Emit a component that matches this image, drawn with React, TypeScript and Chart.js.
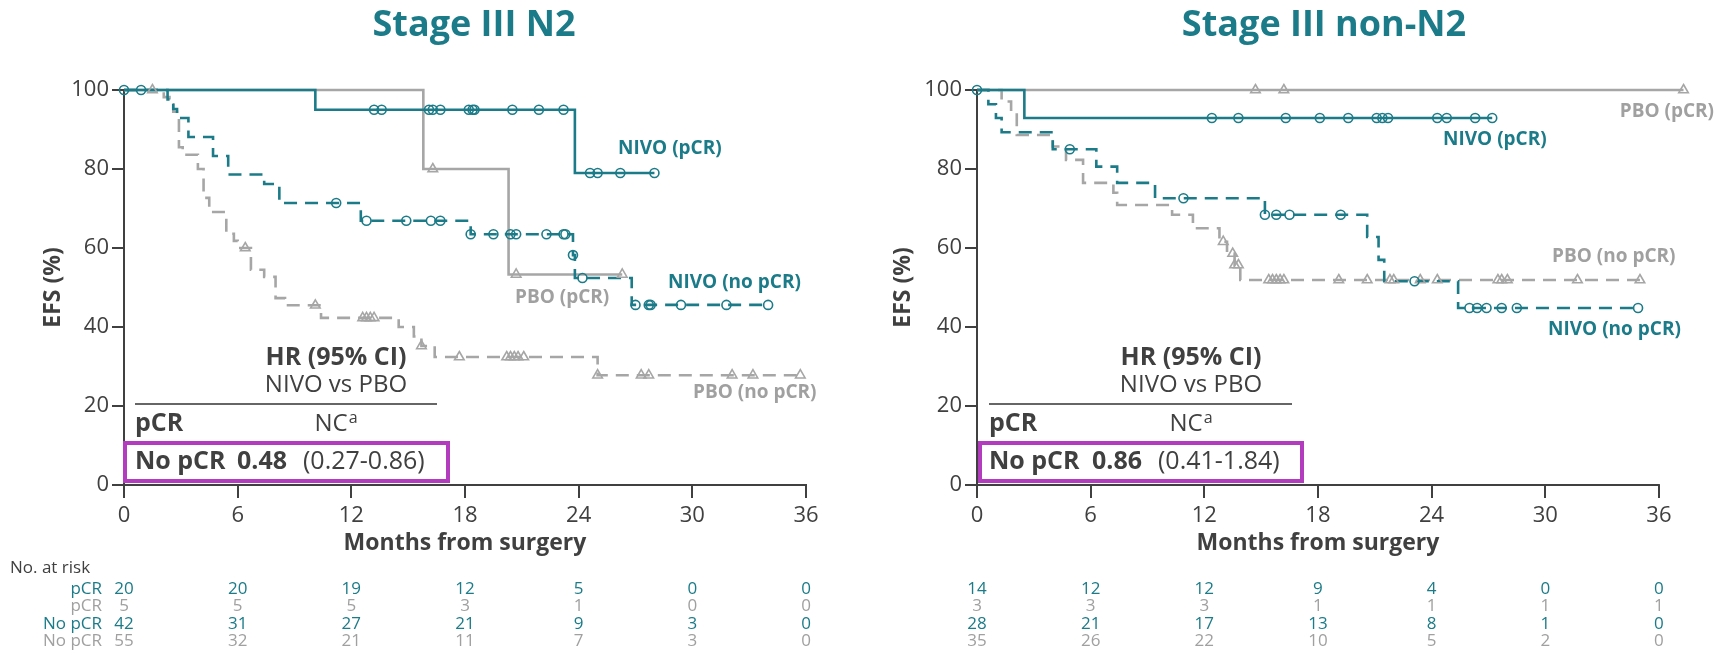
import { useEffect, useRef } from "react";
import { Chart, registerables } from "chart.js";

Chart.register(...registerables);

const TEAL = "#1b7b88";
const GRAY = "#a6a6a6";
const GRAY_TEXT = "#a0a0a0";
const DARK = "#404040";
const PURPLE = "#b23cbd";
const FONT = "'Open Sans', 'Noto Sans', sans-serif";

const xTickMonths = [0, 6, 12, 18, 24, 30, 36];
const yTickValues = [0, 20, 40, 60, 80, 100];

// ---------- Stage III N2 ----------
const n2NivoPcrTimes = [0, 10.1, 23.8, 28.0];
const n2NivoPcrSurv = [100, 95, 79, 79];
const n2NivoPcrCensored = [0, 0.9, 13.2, 13.6, 16.1, 16.3, 16.7, 18.2, 18.4, 18.5, 20.5, 21.9, 23.2, 24.6, 25.0, 26.2, 28.0];

const n2PboPcrTimes = [0, 15.8, 20.3, 26.3];
const n2PboPcrSurv = [100, 80, 53.3, 53.3];
const n2PboPcrCensored = [16.3, 20.7, 26.3];

const n2NivoNoTimes = [0, 2.3, 2.6, 2.8, 3.4, 4.7, 5.5, 7.4, 8.2, 12.5, 18.3, 23.7, 23.8, 26.8, 34.0];
const n2NivoNoSurv = [100, 97.6, 95.2, 92.9, 88.1, 83.3, 78.6, 76.2, 71.4, 66.9, 63.5, 58.2, 52.4, 45.6, 45.6];
const n2NivoNoCensored = [11.2, 12.8, 14.9, 16.2, 16.7, 18.3, 19.5, 20.4, 20.7, 22.3, 23.2, 23.3, 23.7, 24.2, 27.0, 27.7, 27.8, 29.4, 31.8, 34.0];

const n2PboNoTimes = [0, 2.1, 2.4, 2.6, 2.9, 3.1, 3.9, 4.2, 4.5, 5.4, 5.8, 6.0, 6.7, 7.4, 8.0, 8.5, 10.4, 14.5, 15.3, 15.7, 16.4, 25.0, 35.7];
const n2PboNoSurv = [100, 98.2, 96.4, 94.5, 85.5, 83.6, 80.0, 72.7, 69.1, 63.6, 61.8, 60.0, 54.5, 52.7, 47.3, 45.5, 42.3, 40.0, 37.6, 35.2, 32.4, 27.8, 27.8];
const n2PboNoCensored = [1.5, 6.4, 10.1, 12.6, 12.8, 13.0, 13.2, 15.7, 17.7, 20.2, 20.4, 20.6, 20.8, 21.1, 25.0, 27.3, 27.7, 32.1, 33.2, 35.7];

const n2RiskNivoPcr = [20, 20, 19, 12, 5, 0, 0];
const n2RiskPboPcr = [5, 5, 5, 3, 1, 0, 0];
const n2RiskNivoNo = [42, 31, 27, 21, 9, 3, 0];
const n2RiskPboNo = [55, 32, 21, 11, 7, 3, 0];

// ---------- Stage III non-N2 ----------
const nn2NivoPcrTimes = [0, 2.5, 27.2];
const nn2NivoPcrSurv = [100, 92.9, 92.9];
const nn2NivoPcrCensored = [0, 12.4, 13.8, 16.3, 18.1, 19.6, 21.1, 21.4, 21.7, 24.3, 24.8, 26.3, 27.2];

const nn2PboPcrTimes = [0, 37.3];
const nn2PboPcrSurv = [100, 100];
const nn2PboPcrCensored = [14.7, 16.2, 37.3];

const nn2NivoNoTimes = [0, 0.6, 1.0, 1.3, 4.0, 6.3, 7.4, 9.4, 15.2, 20.6, 21.2, 21.5, 25.4, 34.9];
const nn2NivoNoSurv = [100, 96.4, 92.9, 89.3, 85.0, 80.6, 76.5, 72.6, 68.4, 62.8, 57.0, 51.6, 44.8, 44.8];
const nn2NivoNoCensored = [4.9, 10.9, 15.2, 15.8, 16.5, 19.2, 23.1, 26.0, 26.4, 26.9, 27.7, 28.5, 34.9];

const nn2PboNoTimes = [0, 1.3, 1.8, 2.1, 4.0, 4.7, 5.6, 7.2, 7.4, 10.3, 11.4, 12.8, 13.2, 13.6, 13.9, 35.0];
const nn2PboNoSurv = [100, 97.1, 94.3, 88.6, 85.7, 82.3, 76.5, 74.0, 70.9, 68.4, 65.0, 61.6, 58.6, 55.7, 51.9, 51.9];
const nn2PboNoCensored = [13.0, 13.5, 13.6, 13.8, 15.4, 15.6, 15.8, 16.0, 16.2, 19.1, 20.6, 21.8, 22.0, 23.4, 24.3, 27.5, 27.7, 28.0, 31.7, 35.0];

const nn2RiskNivoPcr = [14, 12, 12, 9, 4, 0, 0];
const nn2RiskPboPcr = [3, 3, 3, 1, 1, 1, 1];
const nn2RiskNivoNo = [28, 21, 17, 13, 8, 1, 0];
const nn2RiskPboNo = [35, 26, 22, 10, 5, 2, 0];

const riskRowLabels = ["pCR", "pCR", "No pCR", "No pCR"];
const riskRowColors = [TEAL, GRAY_TEXT, TEAL, GRAY_TEXT];

type Curve = {
  times: number[];
  surv: number[];
  censored: number[];
  color: string;
  dashed: boolean;
  marker: "circle" | "triangle";
};

type Label = { text: string; color: string; x: number; y: number; align: CanvasTextAlign };

type PanelCfg = {
  title: string;
  titleX: number;
  xMax: number;
  padLeft: number;
  padRight: number;
  curves: Curve[];
  labels: Label[];
  hr: {
    cx: number;
    lineX1: number;
    lineX2: number;
    lx: number;
    rect: [number, number, number, number];
    valX: number;
    ciX: number;
    val: string;
    ci: string;
  };
  risk: number[][];
  showRiskLabels: boolean;
  efsX: number;
};

function stepPoints(times: number[], surv: number[]) {
  return times.map((x, i) => ({ x, y: surv[i] }));
}

function survAt(times: number[], surv: number[], t: number) {
  let v = surv[0];
  for (let i = 0; i < times.length; i++) if (times[i] <= t) v = surv[i];
  return v;
}

const n2Cfg: PanelCfg = {
  title: "Stage III N2",
  titleX: 474,
  xMax: 36,
  padLeft: 64,
  padRight: 52,
  curves: [
    { times: n2NivoPcrTimes, surv: n2NivoPcrSurv, censored: n2NivoPcrCensored, color: TEAL, dashed: false, marker: "circle" },
    { times: n2NivoNoTimes, surv: n2NivoNoSurv, censored: n2NivoNoCensored, color: TEAL, dashed: true, marker: "circle" },
    { times: n2PboPcrTimes, surv: n2PboPcrSurv, censored: n2PboPcrCensored, color: GRAY, dashed: false, marker: "triangle" },
    { times: n2PboNoTimes, surv: n2PboNoSurv, censored: n2PboNoCensored, color: GRAY, dashed: true, marker: "triangle" },
  ],
  labels: [
    { text: "NIVO (pCR)", color: TEAL, x: 618, y: 149, align: "left" },
    { text: "NIVO (no pCR)", color: TEAL, x: 668, y: 283, align: "left" },
    { text: "PBO (pCR)", color: GRAY_TEXT, x: 515, y: 298, align: "left" },
    { text: "PBO (no pCR)", color: GRAY_TEXT, x: 693, y: 393, align: "left" },
  ],
  hr: { cx: 336, lineX1: 135, lineX2: 437, lx: 135, rect: [125, 443, 448, 481], valX: 237, ciX: 303, val: "0.48", ci: "(0.27-0.86)" },
  risk: [n2RiskNivoPcr, n2RiskPboPcr, n2RiskNivoNo, n2RiskPboNo],
  showRiskLabels: true,
  efsX: 53,
};

const nn2Cfg: PanelCfg = {
  title: "Stage III non-N2",
  titleX: 466,
  xMax: 37.5,
  padLeft: 59,
  padRight: 28.7,
  curves: [
    { times: nn2NivoPcrTimes, surv: nn2NivoPcrSurv, censored: nn2NivoPcrCensored, color: TEAL, dashed: false, marker: "circle" },
    { times: nn2NivoNoTimes, surv: nn2NivoNoSurv, censored: nn2NivoNoCensored, color: TEAL, dashed: true, marker: "circle" },
    { times: nn2PboPcrTimes, surv: nn2PboPcrSurv, censored: nn2PboPcrCensored, color: GRAY, dashed: false, marker: "triangle" },
    { times: nn2PboNoTimes, surv: nn2PboNoSurv, censored: nn2PboNoCensored, color: GRAY, dashed: true, marker: "triangle" },
  ],
  labels: [
    { text: "PBO (pCR)", color: GRAY_TEXT, x: 856, y: 112, align: "right" },
    { text: "NIVO (pCR)", color: TEAL, x: 585, y: 140, align: "left" },
    { text: "PBO (no pCR)", color: GRAY_TEXT, x: 694, y: 257, align: "left" },
    { text: "NIVO (no pCR)", color: TEAL, x: 690, y: 330, align: "left" },
  ],
  hr: { cx: 333, lineX1: 131, lineX2: 434, lx: 131, rect: [122, 443, 444, 481], valX: 234, ciX: 300, val: "0.86", ci: "(0.41-1.84)" },
  risk: [nn2RiskNivoPcr, nn2RiskPboPcr, nn2RiskNivoNo, nn2RiskPboNo],
  showRiskLabels: false,
  efsX: 45,
};

function makeOverlay(cfg: PanelCfg) {
  return {
    id: "overlay",
    afterDraw(chart: any) {
      const ctx: CanvasRenderingContext2D = chart.ctx;
      const xs = chart.scales.x;
      const ca = chart.chartArea;
      ctx.save();

      // x axis line (0..36)
      ctx.strokeStyle = DARK;
      ctx.lineWidth = 2;
      ctx.beginPath();
      ctx.moveTo(xs.getPixelForValue(0) - 1, ca.bottom);
      ctx.lineTo(xs.getPixelForValue(36) + 1, ca.bottom);
      ctx.stroke();

      // title
      ctx.fillStyle = TEAL;
      ctx.font = `bold 36px ${FONT}`;
      ctx.textAlign = "center";
      ctx.textBaseline = "alphabetic";
      ctx.fillText(cfg.title, cfg.titleX, 36);

      // axis titles
      ctx.fillStyle = DARK;
      ctx.font = `bold 23px ${FONT}`;
      ctx.textBaseline = "middle";
      ctx.fillText("Months from surgery", (xs.getPixelForValue(0) + xs.getPixelForValue(36)) / 2, 543);
      ctx.save();
      ctx.translate(cfg.efsX, (ca.top + ca.bottom) / 2);
      ctx.rotate(-Math.PI / 2);
      ctx.fillText("EFS (%)", 0, 0);
      ctx.restore();

      // curve labels
      ctx.font = `bold 19px ${FONT}`;
      for (const l of cfg.labels) {
        ctx.fillStyle = l.color;
        ctx.textAlign = l.align;
        ctx.fillText(l.text, l.x, l.y);
      }

      // HR box
      const hr = cfg.hr;
      ctx.fillStyle = DARK;
      ctx.textAlign = "center";
      ctx.font = `bold 25px ${FONT}`;
      ctx.fillText("HR (95% CI)", hr.cx, 358);
      ctx.font = `24px ${FONT}`;
      ctx.fillText("NIVO vs PBO", hr.cx, 385);
      ctx.strokeStyle = "#333333";
      ctx.lineWidth = 1.5;
      ctx.beginPath();
      ctx.moveTo(hr.lineX1, 404);
      ctx.lineTo(hr.lineX2, 404);
      ctx.stroke();
      ctx.textAlign = "left";
      ctx.font = `bold 25px ${FONT}`;
      ctx.fillText("pCR", hr.lx, 424);
      ctx.font = `24px ${FONT}`;
      const ncW = ctx.measureText("NC").width;
      ctx.font = `16px ${FONT}`;
      const aW = ctx.measureText("a").width;
      const ncStart = hr.cx - (ncW + aW + 1) / 2;
      ctx.font = `24px ${FONT}`;
      ctx.fillText("NC", ncStart, 424);
      ctx.font = `16px ${FONT}`;
      ctx.fillText("a", ncStart + ncW + 1, 418);

      const [rx1, ry1, rx2, ry2] = hr.rect;
      ctx.strokeStyle = PURPLE;
      ctx.lineWidth = 4;
      ctx.strokeRect(rx1, ry1, rx2 - rx1, ry2 - ry1);
      ctx.fillStyle = DARK;
      ctx.font = `bold 25px ${FONT}`;
      ctx.fillText("No pCR", hr.lx, 462);
      ctx.fillText(hr.val, hr.valX, 462);
      ctx.font = `25px ${FONT}`;
      ctx.fillText(hr.ci, hr.ciX, 462);

      // number at risk table
      const rowY = [589, 606, 624, 641];
      if (cfg.showRiskLabels) {
        ctx.fillStyle = DARK;
        ctx.font = `17px ${FONT}`;
        ctx.textAlign = "left";
        ctx.fillText("No. at risk", 10, 568);
        ctx.textAlign = "right";
        riskRowLabels.forEach((lab, r) => {
          ctx.fillStyle = riskRowColors[r];
          ctx.fillText(lab, 102, rowY[r]);
        });
      }
      ctx.textAlign = "center";
      ctx.font = `17px ${FONT}`;
      cfg.risk.forEach((row, r) => {
        ctx.fillStyle = riskRowColors[r];
        row.forEach((n, i) => {
          ctx.fillText(String(n), xs.getPixelForValue(xTickMonths[i]), rowY[r]);
        });
      });

      ctx.restore();
    },
  };
}

function Panel({ cfg, left }: { cfg: PanelCfg; left: number }) {
  const ref = useRef<HTMLCanvasElement | null>(null);
  useEffect(() => {
    if (!ref.current) return;
    const datasets: any[] = [];
    // censor marks first so they sit on top
    for (const c of cfg.curves) {
      datasets.push({
        type: "line",
        data: c.censored.map((t) => ({ x: t, y: survAt(c.times, c.surv, t) })),
        showLine: false,
        pointStyle: c.marker,
        pointRadius: c.marker === "circle" ? 4.5 : 5.5,
        pointBorderWidth: 1.6,
        pointBorderColor: c.color,
        pointBackgroundColor: "rgba(255,255,255,0)",
        borderColor: c.color,
        clip: false,
      });
    }
    for (const c of cfg.curves) {
      datasets.push({
        type: "line",
        data: stepPoints(c.times, c.surv),
        stepped: true,
        borderColor: c.color,
        borderWidth: 2.6,
        borderDash: c.dashed ? [13, 8] : [],
        pointRadius: 0,
        fill: false,
        clip: false,
      });
    }
    const tickFont = { family: FONT, size: 22 };
    const chart = new Chart(ref.current, {
      type: "line",
      data: { datasets },
      options: {
        animation: false,
        responsive: false,
        devicePixelRatio: 1,
        events: [],
        layout: { padding: { left: cfg.padLeft, right: cfg.padRight, top: 90, bottom: 122 } },
        plugins: { legend: { display: false }, tooltip: { enabled: false }, title: { display: false } },
        scales: {
          x: {
            type: "linear",
            min: 0,
            max: cfg.xMax,
            afterBuildTicks: (s: any) => {
              s.ticks = xTickMonths.map((v) => ({ value: v }));
            },
            afterFit: (s: any) => {
              s.height = 60;
            },
            grid: { drawOnChartArea: false, drawTicks: true, tickLength: 13, color: DARK, lineWidth: 2 },
            border: { display: false },
            ticks: { font: tickFont, color: DARK, padding: 5, autoSkip: false, maxRotation: 0 },
          },
          y: {
            type: "linear",
            min: 0,
            max: 100,
            afterBuildTicks: (s: any) => {
              s.ticks = yTickValues.map((v) => ({ value: v }));
            },
            afterFit: (s: any) => {
              s.width = 60;
            },
            grid: { drawOnChartArea: false, drawTicks: true, tickLength: 12, color: DARK, lineWidth: 2 },
            border: { display: true, color: DARK, width: 2 },
            ticks: { font: tickFont, color: DARK, padding: 3 },
          },
        },
      } as any,
      plugins: [makeOverlay(cfg)],
    });
    return () => chart.destroy();
  }, [cfg]);
  return (
    <canvas
      ref={ref}
      width={858}
      height={667}
      style={{ position: "absolute", left, top: 0, width: 858, height: 667, display: "block" }}
    />
  );
}

export default function App() {
  return (
    <div style={{ position: "absolute", left: 0, top: 0, width: 1716, height: 667, background: "#ffffff", overflow: "hidden" }}>
      <Panel cfg={n2Cfg} left={0} />
      <Panel cfg={nn2Cfg} left={858} />
    </div>
  );
}
